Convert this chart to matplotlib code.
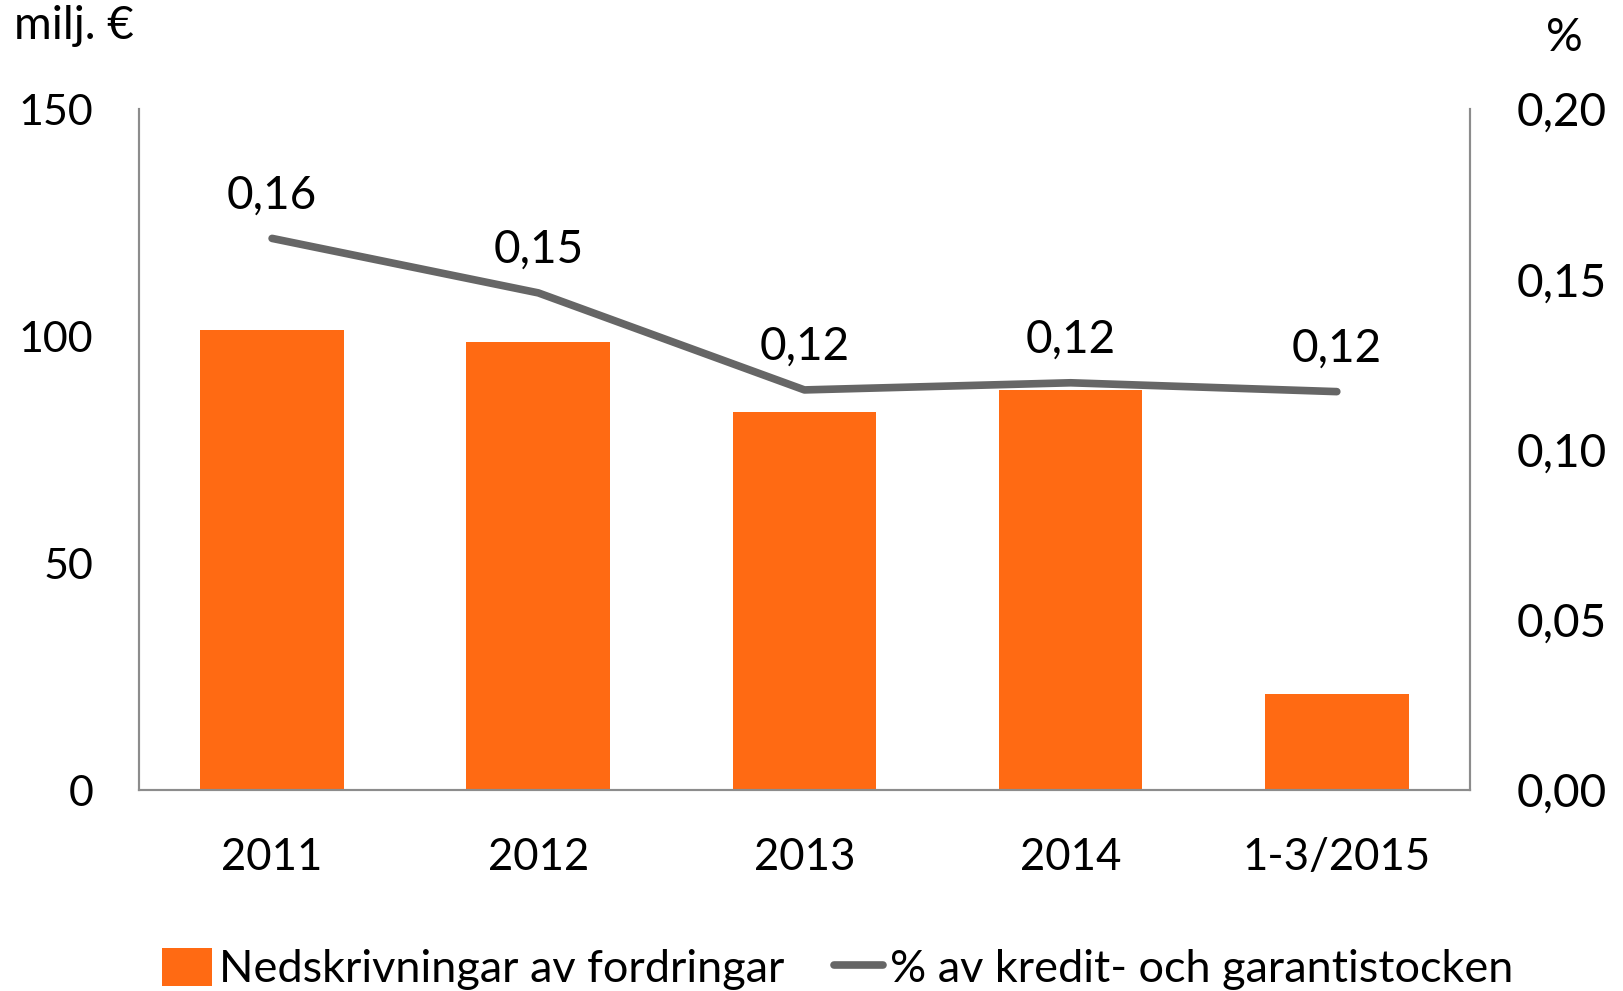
import matplotlib.pyplot as plt
from matplotlib.patches import Patch
from matplotlib.lines import Line2D

categories = ["2011", "2012", "2013", "2014", "1-3/2015"]
impairments = [101.4, 98.6, 83.3, 88.1, 21.2]
pct_of_stock = [0.162, 0.146, 0.1175, 0.1196, 0.117]
pct_labels = ["0,16", "0,15", "0,12", "0,12", "0,12"]
left_ticks = [0, 50, 100, 150]
right_ticks = [0.0, 0.05, 0.10, 0.15, 0.20]

plt.rcParams['font.family'] = ['Lato', 'DejaVu Sans']
FS = 33
orange = "#FF6A13"
grey = "#666666"
spine_col = "#8C8C8C"

fig = plt.figure(figsize=(16.24, 9.91), dpi=100)
ax = fig.add_axes([0.0856, 0.2028, 0.9051 - 0.0856, 0.890 - 0.2028])
x = list(range(len(categories)))
ax.bar(x, impairments, width=0.54, color=orange, zorder=2)
ax.set_xlim(-0.5, len(categories) - 0.5)
ax.set_ylim(0, 150)
ax.set_yticks(left_ticks)
ax.set_yticklabels([str(v) for v in left_ticks])
ax.set_xticks(x)
ax.set_xticklabels(categories)
ax.tick_params(axis='y', length=0, pad=33, labelsize=31)
ax.tick_params(axis='x', length=0, pad=34, labelsize=31.5)
ax.spines["top"].set_visible(False)
for s in ["left", "right", "bottom"]:
    ax.spines[s].set_color(spine_col)
    ax.spines[s].set_linewidth(1.5)

ax2 = ax.twinx()
ax2.plot(x, pct_of_stock, color=grey, lw=5.5, solid_capstyle='round',
         solid_joinstyle='round', zorder=3)
ax2.set_ylim(0, 0.20)
ax2.set_yticks(right_ticks)
ax2.set_yticklabels([f"{v:.2f}".replace(".", ",") for v in right_ticks])
ax2.tick_params(axis='y', length=0, pad=34, labelsize=FS)
ax2.spines["top"].set_visible(False)
for s in ["left", "right", "bottom"]:
    ax2.spines[s].set_color(spine_col)
    ax2.spines[s].set_linewidth(1.5)

for xi, yi, lab in zip(x, pct_of_stock, pct_labels):
    ax2.annotate(lab, (xi, yi), xytext=(0, 31), textcoords='offset points',
                 ha='center', va='center', fontsize=FS)

fig.text(14 / 1624, 1 - 26 / 991, "milj. €", ha='left', va='center', fontsize=FS)
fig.text(1564 / 1624, 1 - 38 / 991, "%", ha='center', va='center', fontsize=FS)

handles = [Patch(facecolor=orange, edgecolor='none'),
           Line2D([0], [0], color=grey, lw=5.5, solid_capstyle='round')]
labels = ["Nedskrivningar av fordringar", "% av kredit- och garantistocken"]
fig.legend(handles, labels, loc='center', bbox_to_anchor=(0.516, 0.022),
           ncol=2, frameon=False, fontsize=32.5, handlelength=1.1,
           handleheight=0.9, handletextpad=0.15, columnspacing=1.1)

fig.savefig("out.png", dpi=100)
